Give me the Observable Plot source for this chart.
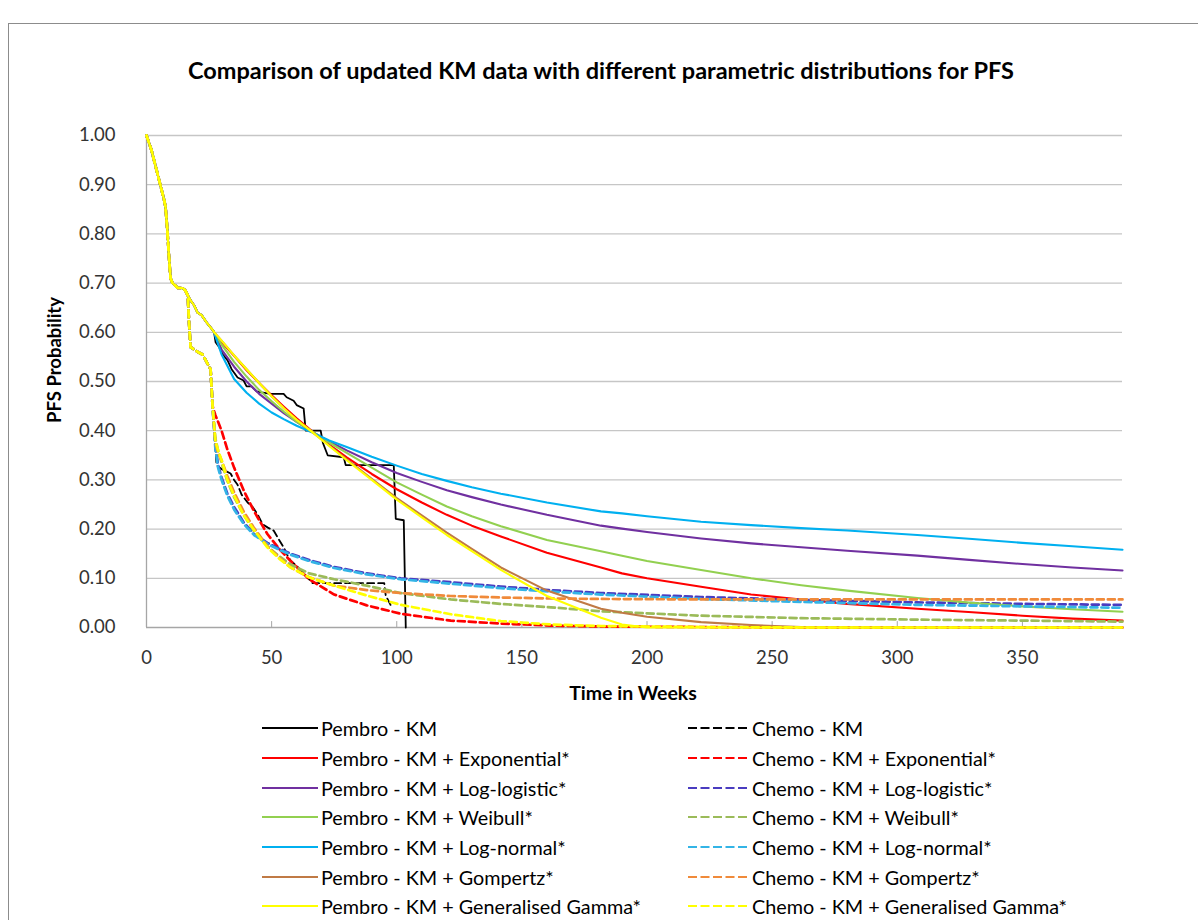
<!DOCTYPE html>
<html>
<head>
<meta charset="utf-8">
<script src="https://cdn.jsdelivr.net/npm/d3@7"></script>
<script src="https://cdn.jsdelivr.net/npm/@observablehq/plot@0.6"></script>
<style>
  html, body { margin: 0; padding: 0; background: #fff; width: 1198px; height: 920px; overflow: hidden; }
  body { position: relative; font-family: Lato, "Open Sans", "Liberation Sans", sans-serif; color: #000; }
  #frame { position: absolute; left: 8px; top: 23px; width: 1200px; height: 1000px; border: 1px solid #8c8c8c; box-sizing: border-box; }
  #title { position: absolute; left: 601px; top: 70px; transform: translate(-50%, -50%); font-weight: bold; font-size: 23.5px; white-space: nowrap; }
  #chart { position: absolute; left: 0; top: 0; }
  #ylabel { position: absolute; left: 54px; top: 360px; transform: translate(-50%, -50%) rotate(-90deg); font-weight: bold; font-size: 18.5px; white-space: nowrap; }
  #xlabel { position: absolute; left: 633px; top: 692px; transform: translate(-50%, -50%); font-weight: bold; font-size: 19.5px; white-space: nowrap; }
  .lg { position: absolute; display: flex; align-items: center; font-size: 19.8px; white-space: nowrap; transform: translateY(-50%); }
  .lg svg { margin-right: 3px; }
</style>
</head>
<body>
<div id="frame"></div>
<div id="title">Comparison of updated KM data with different parametric distributions for PFS</div>
<div id="chart"></div>
<div id="ylabel">PFS Probability</div>
<div id="xlabel">Time in Weeks</div>
<div id="legend"></div>
<script>
// ---------- Data ----------
const xTicks = [0, 50, 100, 150, 200, 250, 300, 350];
const yTicks = [0, 0.1, 0.2, 0.3, 0.4, 0.5, 0.6, 0.7, 0.8, 0.9, 1.0];

// KM part common to both arms (weeks, probability)
const sharedKmT = [0, 1, 2, 3, 4, 5, 6, 7, 7.6, 8.3, 8.9, 9.6, 10.4, 11.5, 12.5, 13.5, 14.5, 15.5, 16.5];
const sharedKmP = [1.00, 0.985, 0.97, 0.95, 0.93, 0.91, 0.89, 0.87, 0.855, 0.81, 0.76, 0.71, 0.70, 0.695, 0.69, 0.69, 0.69, 0.685, 0.675];

// Pembrolizumab KM after the shared part
const pembroKmT = [17.6, 19, 20.4, 22, 24, 26.4, 27, 27.6, 29, 30.5, 32.4, 34, 36.4, 38.8, 40, 42, 44, 46, 49.6, 54.8, 56, 58.8, 60, 62.8, 63.6, 69.6, 70.5, 72.4, 78.8, 79.6, 98.8, 99.6, 102.8, 103.6];
const pembroKmP = [0.665, 0.655, 0.64, 0.635, 0.62, 0.605, 0.60, 0.58, 0.57, 0.555, 0.543, 0.525, 0.508, 0.502, 0.49, 0.49, 0.48, 0.478, 0.475, 0.475, 0.468, 0.461, 0.452, 0.445, 0.40, 0.40, 0.375, 0.35, 0.346, 0.33, 0.33, 0.221, 0.218, 0.0];

// Chemotherapy KM after the shared part
const chemoKmT = [17.0, 17.6, 19, 20.5, 22.4, 24, 25.6, 26.4, 27.0, 27.6, 28.0, 30, 33.6, 35, 36.4, 38, 40.4, 42.4, 44.4, 46.4, 48.5, 50.8, 53, 54.8, 56.5, 57.6, 60, 62.8, 65, 66.4, 95, 95.6, 97.6];
const chemoKmP = [0.62, 0.57, 0.565, 0.56, 0.555, 0.54, 0.525, 0.45, 0.40, 0.36, 0.33, 0.322, 0.313, 0.30, 0.29, 0.27, 0.254, 0.245, 0.23, 0.21, 0.203, 0.197, 0.178, 0.163, 0.145, 0.136, 0.125, 0.11, 0.098, 0.09, 0.09, 0.065, 0.045];

const pembroCut = 27;    // KM used up to this week, then extrapolation
const chemoCut = 26.4;

// Pembro extrapolated tails
const pembroTailT = [30, 35, 40, 45, 50, 55, 60, 66, 73, 80, 90, 100, 110, 120, 130, 141.6, 160, 181.6, 190, 200, 221.6, 241.6, 261.6, 280, 308, 330, 350, 370, 390];
const pembroExp   = [0.58, 0.552, 0.523, 0.497, 0.472, 0.448, 0.425, 0.40, 0.372, 0.346, 0.312, 0.281, 0.254, 0.229, 0.207, 0.185, 0.152, 0.122, 0.11, 0.10, 0.083, 0.067, 0.057, 0.048, 0.038, 0.031, 0.024, 0.018, 0.014];
const pembroLogl  = [0.565, 0.53, 0.5, 0.475, 0.455, 0.435, 0.418, 0.398, 0.378, 0.36, 0.336, 0.314, 0.296, 0.279, 0.265, 0.25, 0.229, 0.207, 0.201, 0.194, 0.181, 0.171, 0.163, 0.156, 0.146, 0.137, 0.129, 0.122, 0.116];
const pembroWeib  = [0.575, 0.54, 0.51, 0.483, 0.46, 0.438, 0.418, 0.399, 0.376, 0.355, 0.325, 0.295, 0.27, 0.246, 0.226, 0.206, 0.178, 0.155, 0.146, 0.135, 0.117, 0.10, 0.086, 0.075, 0.06, 0.05, 0.043, 0.037, 0.032];
const pembroLogn  = [0.555, 0.505, 0.477, 0.455, 0.437, 0.423, 0.41, 0.397, 0.38, 0.367, 0.347, 0.329, 0.312, 0.298, 0.285, 0.272, 0.254, 0.236, 0.232, 0.226, 0.215, 0.208, 0.202, 0.197, 0.188, 0.18, 0.172, 0.165, 0.158];
const pembroGomp  = [0.583, 0.553, 0.525, 0.497, 0.47, 0.445, 0.422, 0.398, 0.37, 0.342, 0.302, 0.263, 0.228, 0.193, 0.16, 0.122, 0.075, 0.038, 0.03, 0.022, 0.011, 0.005, 0.001, 0, 0, 0, 0, 0, 0];
const pembroGg    = [0.583, 0.553, 0.525, 0.497, 0.47, 0.445, 0.422, 0.398, 0.369, 0.34, 0.30, 0.26, 0.224, 0.188, 0.155, 0.117, 0.064, 0.02, 0.006, 0, 0, 0, 0, 0, 0, 0, 0, 0, 0];

// Chemo extrapolated tails
const chemoTailT = [27.5, 28.6, 30, 32.3, 35, 38.9, 43, 48.3, 53, 57.6, 65, 75, 88, 101.6, 121.6, 141.6, 161.6, 181.6, 221.6, 261.6, 308, 350, 390];
const chemoExp   = [0.432, 0.418, 0.40, 0.362, 0.325, 0.278, 0.236, 0.19, 0.16, 0.135, 0.098, 0.067, 0.045, 0.028, 0.014, 0.008, 0.004, 0.002, 0.001, 0, 0, 0, 0];
const chemoLogl  = [0.37, 0.33, 0.305, 0.272, 0.245, 0.213, 0.19, 0.172, 0.16, 0.15, 0.137, 0.123, 0.11, 0.10, 0.092, 0.083, 0.076, 0.07, 0.062, 0.056, 0.051, 0.048, 0.046];
const chemoWeib  = [0.385, 0.36, 0.335, 0.298, 0.265, 0.228, 0.196, 0.165, 0.145, 0.128, 0.11, 0.098, 0.085, 0.07, 0.057, 0.048, 0.041, 0.033, 0.024, 0.019, 0.016, 0.014, 0.012];
const chemoLogn  = [0.365, 0.325, 0.30, 0.268, 0.24, 0.21, 0.188, 0.17, 0.158, 0.148, 0.135, 0.121, 0.108, 0.098, 0.089, 0.08, 0.073, 0.067, 0.058, 0.052, 0.046, 0.043, 0.04];
const chemoGomp  = [0.375, 0.355, 0.34, 0.308, 0.275, 0.235, 0.202, 0.165, 0.142, 0.122, 0.102, 0.085, 0.076, 0.07, 0.064, 0.061, 0.059, 0.058, 0.057, 0.057, 0.057, 0.057, 0.057];
const chemoGg    = [0.38, 0.36, 0.34, 0.30, 0.268, 0.228, 0.198, 0.163, 0.14, 0.122, 0.102, 0.085, 0.065, 0.046, 0.027, 0.013, 0.006, 0.003, 0.001, 0, 0, 0, 0];

const seriesNames = [
  "Pembro - KM", "Chemo - KM",
  "Pembro - KM + Exponential*", "Chemo - KM + Exponential*",
  "Pembro - KM + Log-logistic*", "Chemo - KM + Log-logistic*",
  "Pembro - KM + Weibull*", "Chemo - KM + Weibull*",
  "Pembro - KM + Log-normal*", "Chemo - KM + Log-normal*",
  "Pembro - KM + Gompertz*", "Chemo - KM + Gompertz*",
  "Pembro - KM + Generalised Gamma*", "Chemo - KM + Generalised Gamma*"
];
const seriesColors = [
  "#000000", "#000000",
  "#ff0000", "#ff0000",
  "#7030a0", "#4a3cc0",
  "#92d050", "#9bbb59",
  "#00b0f0", "#33b4e6",
  "#c07a45", "#f08a3a",
  "#ffff00", "#ffff00"
];

// ---------- Build series ----------
const zipTP = (T, P) => T.map((t, i) => ({t, p: P[i]}));
const shared = zipTP(sharedKmT, sharedKmP);
const pembroKm = shared.concat(zipTP(pembroKmT, pembroKmP));
const chemoKm = shared.concat(zipTP(chemoKmT, chemoKmP));
const pembroHead = pembroKm.filter(d => d.t <= pembroCut);
const chemoHead = chemoKm.filter(d => d.t <= chemoCut);
const pTail = P => pembroHead.concat(zipTP(pembroTailT, P));
const cTail = P => chemoHead.concat(zipTP(chemoTailT, P));

const seriesData = [
  pembroKm, chemoKm,
  pTail(pembroExp), cTail(chemoExp),
  pTail(pembroLogl), cTail(chemoLogl),
  pTail(pembroWeib), cTail(chemoWeib),
  pTail(pembroLogn), cTail(chemoLogn),
  pTail(pembroGomp), cTail(chemoGomp),
  pTail(pembroGg), cTail(chemoGg)
];
const DASH = "7,4";
const isChemo = i => i % 2 === 1;

const lineMarks = seriesData.map((data, i) =>
  Plot.line(data, {
    x: "t", y: "p",
    stroke: seriesColors[i],
    strokeWidth: i < 2 ? 1.8 : (isChemo(i) ? 2.7 : 2.1),
    strokeDasharray: isChemo(i) ? DASH : null,
    strokeLinejoin: "round"
  })
);

const chart = Plot.plot({
  width: 1198,
  height: 680,
  marginTop: 135,
  marginBottom: 53,
  marginLeft: 146,
  marginRight: 76,
  style: {fontFamily: "Lato, 'Open Sans', sans-serif", fontSize: "18px", background: "transparent", overflow: "visible"},
  x: {domain: [0, 390]},
  y: {domain: [0, 1]},
  marks: [
    Plot.ruleY(yTicks.filter(d => d > 0), {y: d => d, stroke: "#c6c6c6", strokeWidth: 1.3}),
    Plot.ruleX([0], {stroke: "#a6a6a6", strokeWidth: 1.3}),
    Plot.ruleY([0], {stroke: "#a6a6a6", strokeWidth: 1.3}),
    Plot.ruleX(xTicks.filter(d => d > 0), {x: d => d, y1: 0, y2: 0.012, stroke: "#a6a6a6"}),
    ...lineMarks,
    Plot.axisX({ticks: xTicks, tickSize: 0, tickPadding: 23, label: null, fontSize: 18.5, fill: "#333"}),
    Plot.axisY({ticks: yTicks, tickSize: 0, tickPadding: 31, tickFormat: d => d.toFixed(2), label: null, fontSize: 18.5, fill: "#333"})
  ]
});
document.getElementById("chart").appendChild(chart);

// ---------- Legend ----------
const legend = document.getElementById("legend");
const rowY = [728, 758, 788, 817, 847, 877, 906];
seriesNames.forEach((name, i) => {
  const col = i % 2, row = Math.floor(i / 2);
  const item = document.createElement("div");
  item.className = "lg";
  item.style.left = (col === 0 ? 262 : 688) + "px";
  item.style.top = rowY[row] + "px";
  const w = col === 0 ? 56 : 61;
  item.innerHTML = `<svg width="${w}" height="6"><line x1="0" y1="3" x2="${w}" y2="3" stroke="${seriesColors[i]}" stroke-width="${i < 2 ? 1.8 : 2.2}" ${isChemo(i) ? 'stroke-dasharray="9,3.5"' : ''}/></svg><span>${name}</span>`;
  legend.appendChild(item);
});
</script>
</body>
</html>
